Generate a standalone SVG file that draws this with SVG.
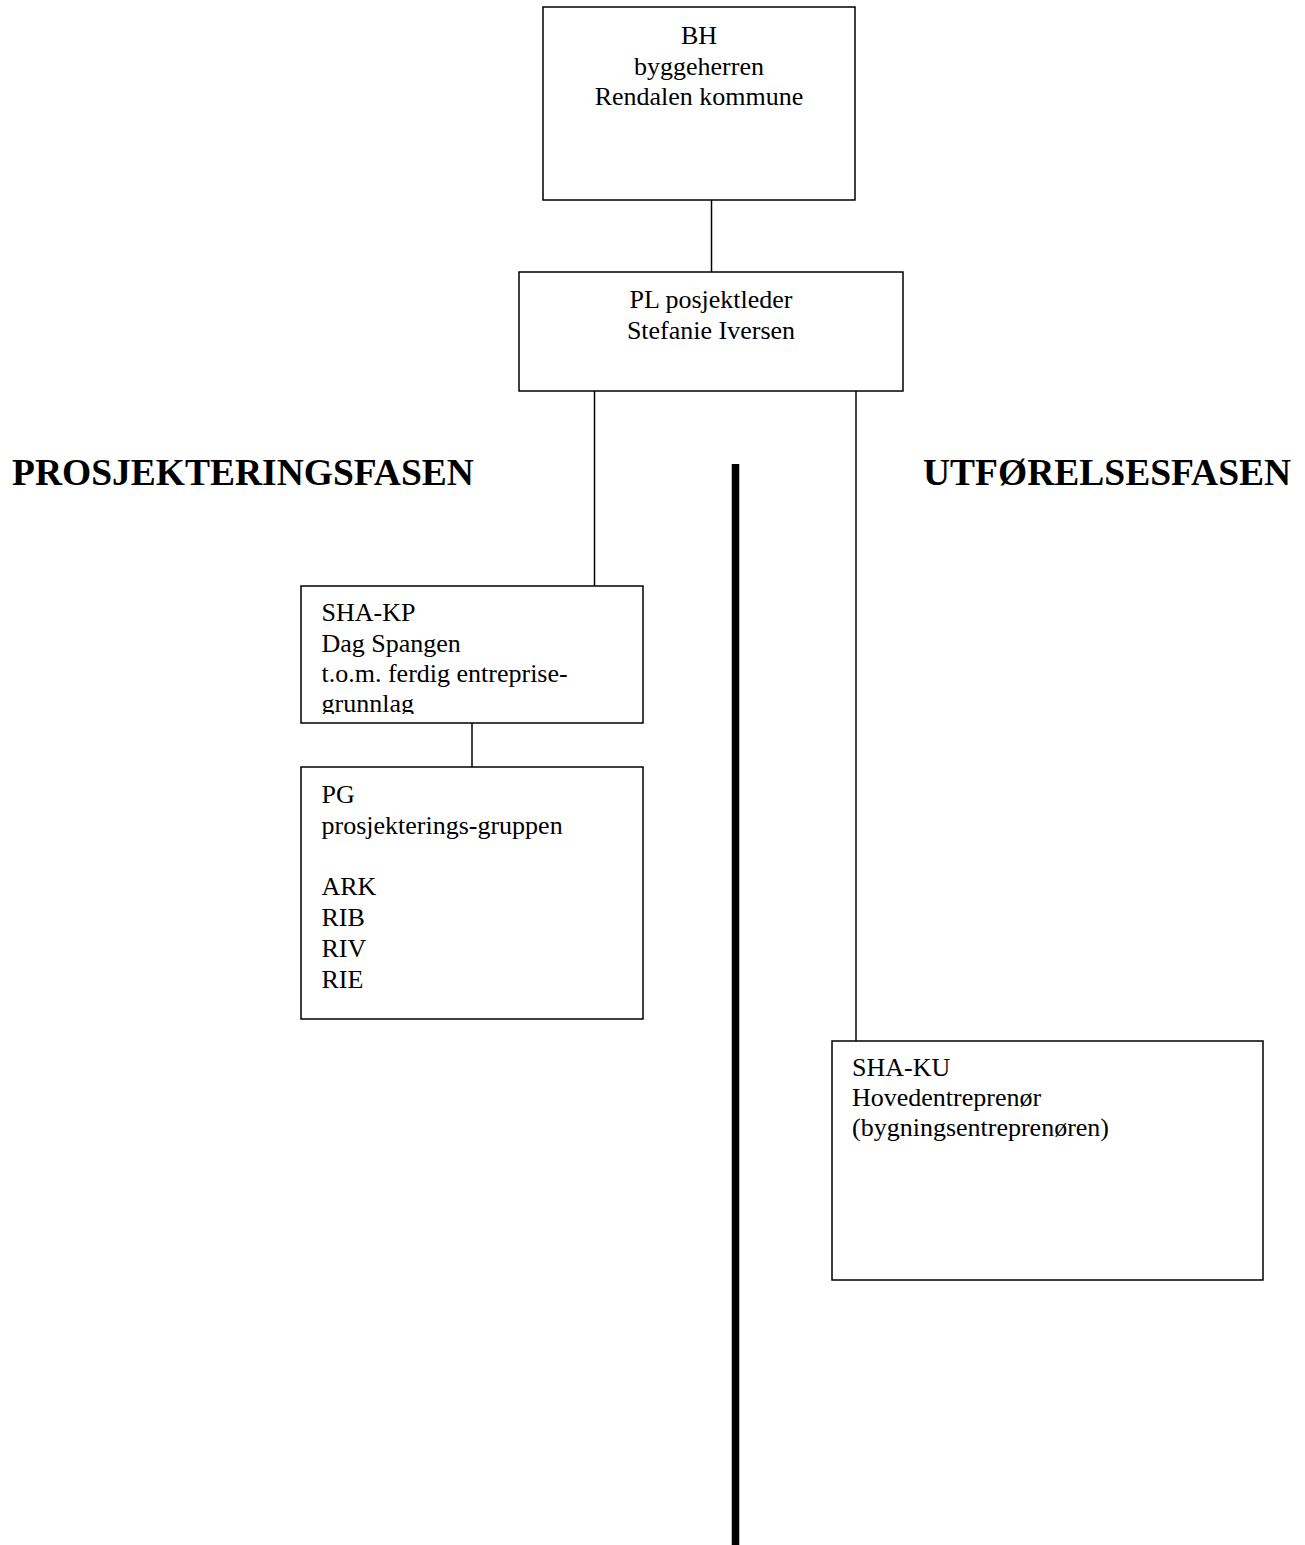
<svg xmlns="http://www.w3.org/2000/svg" width="1305" height="1545" viewBox="0 0 1305 1545">
<style>
.box{fill:#fff;stroke:#000;stroke-width:1.5}
.t{font-family:"Liberation Serif","Times New Roman",serif;font-size:26px;fill:#000}
.c{text-anchor:middle}
.h{font-family:"Liberation Serif","Times New Roman",serif;font-size:37.5px;font-weight:bold;fill:#000}
.ln{stroke:#000;stroke-width:1.5;fill:none}
</style>
<defs>
<clipPath id="clipkp"><rect x="301" y="586" width="342" height="128"/></clipPath>
</defs>
<g id="connectors">
<line class="ln" x1="711.5" y1="200" x2="711.5" y2="272"/>
<line class="ln" x1="594.5" y1="391" x2="594.5" y2="586"/>
<line class="ln" x1="856" y1="391" x2="856" y2="1041"/>
<line class="ln" x1="472" y1="723" x2="472" y2="767"/>
</g>
<g id="divider">
<line x1="735.5" y1="464" x2="735.5" y2="1545" stroke="#000" stroke-width="7.5"/>
</g>
<g id="heading-prosjektering">
<text class="h" x="12" y="485">PROSJEKTERINGSFASEN</text>
</g>
<g id="heading-utforelse">
<text class="h" x="923" y="485">UTFØRELSESFASEN</text>
</g>
<g id="node-bh">
<rect class="box" x="543" y="7" width="312" height="193"/>
<text class="t c" x="699" y="44">BH</text>
<text class="t c" x="699" y="75">byggeherren</text>
<text class="t c" x="699" y="105">Rendalen kommune</text>
</g>
<g id="node-pl">
<rect class="box" x="519" y="272" width="384" height="119"/>
<text class="t c" x="711" y="308">PL posjektleder</text>
<text class="t c" x="711" y="339">Stefanie Iversen</text>
</g>
<g id="node-shakp">
<rect class="box" x="301" y="586" width="342" height="137"/>
<g clip-path="url(#clipkp)">
<text class="t" x="321.5" y="621">SHA-KP</text>
<text class="t" x="321.5" y="652">Dag Spangen</text>
<text class="t" x="321.5" y="682">t.o.m. ferdig entreprise-</text>
<text class="t" x="321.5" y="712">grunnlag</text>
</g>
</g>
<g id="node-pg">
<rect class="box" x="301" y="767" width="342" height="252"/>
<text class="t" x="321.5" y="803">PG</text>
<text class="t" x="321.5" y="834">prosjekterings-gruppen</text>
<text class="t" x="321.5" y="895">ARK</text>
<text class="t" x="321.5" y="926">RIB</text>
<text class="t" x="321.5" y="957">RIV</text>
<text class="t" x="321.5" y="988">RIE</text>
</g>
<g id="node-shaku">
<rect class="box" x="832" y="1041" width="431" height="239"/>
<text class="t" x="852" y="1076">SHA-KU</text>
<text class="t" x="852" y="1106">Hovedentreprenør</text>
<text class="t" x="852" y="1136">(bygningsentreprenøren)</text>
</g>
</svg>
